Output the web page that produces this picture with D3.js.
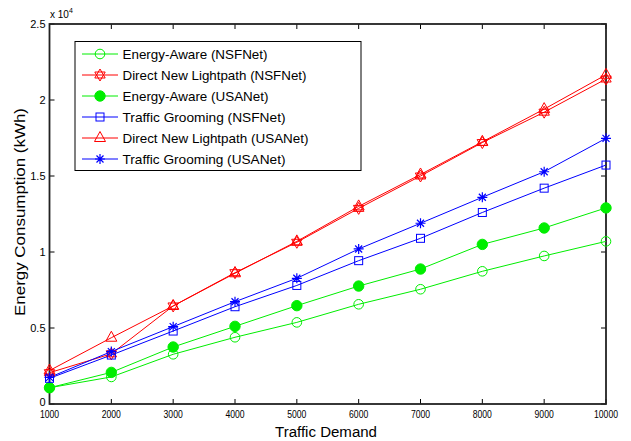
<!DOCTYPE html>
<html><head><meta charset="utf-8">
<script src="https://cdn.jsdelivr.net/npm/d3@7"></script>
<style>body{margin:0;background:#fff;} text{font-family:"Liberation Sans",Arial,sans-serif;}</style>
</head><body>
<svg id="c" width="631" height="441"></svg>
<script>
const demand = [1000,2000,3000,4000,5000,6000,7000,8000,9000,10000];
const eaNSF  = [0.107,0.178,0.327,0.439,0.537,0.656,0.755,0.873,0.974,1.07];
const dnlNSF = [0.206,0.33,0.645,0.864,1.064,1.287,1.50,1.72,1.92,2.138];
const eaUSA  = [0.107,0.208,0.375,0.511,0.647,0.776,0.888,1.05,1.158,1.29];
const tgNSF  = [0.169,0.322,0.48,0.64,0.78,0.943,1.09,1.26,1.42,1.572];
const dnlUSA = [0.22,0.436,0.645,0.86,1.07,1.30,1.51,1.725,1.94,2.166];
const tgUSA  = [0.175,0.345,0.509,0.673,0.827,1.02,1.189,1.36,1.528,1.748];
const seriesNames = ["Energy-Aware (NSFNet)","Direct New Lightpath (NSFNet)","Energy-Aware (USANet)","Traffic Grooming (NSFNet)","Direct New Lightpath (USANet)","Traffic Grooming (USANet)"];
const xTicks = [1000,2000,3000,4000,5000,6000,7000,8000,9000,10000];
const yTicks = [0,0.5,1,1.5,2,2.5];

const series = [
  {name:seriesNames[0], v:eaNSF, color:"#00ee00", m:"circle"},
  {name:seriesNames[1], v:dnlNSF, color:"#ff0000", m:"hexagram"},
  {name:seriesNames[2], v:eaUSA, color:"#00ee00", m:"dot"},
  {name:seriesNames[3], v:tgNSF, color:"#0000ff", m:"square"},
  {name:seriesNames[4], v:dnlUSA, color:"#ff0000", m:"triangle"},
  {name:seriesNames[5], v:tgUSA, color:"#0000ff", m:"star"}
];

const svg = d3.select("#c");
const L=49.5, R=606, T=24, B=404;
const x = d3.scaleLinear().domain([1000,10000]).range([L,R]);
const y = d3.scaleLinear().domain([0,2.5]).range([B,T]);

function marker(g, type, color, cx, cy){
  const s = g.append("g").attr("transform",`translate(${cx},${cy})`);
  if(type==="circle") s.append("circle").attr("r",4.8).attr("fill","none").attr("stroke",color).attr("stroke-width",1);
  else if(type==="dot") s.append("circle").attr("r",5.2).attr("fill",color).attr("stroke",color);
  else if(type==="square") s.append("rect").attr("x",-4).attr("y",-4).attr("width",8).attr("height",8).attr("fill","none").attr("stroke",color);
  else if(type==="triangle") s.append("path").attr("d","M0,-6.5L5.5,3.5L-5.5,3.5Z").attr("fill","none").attr("stroke",color);
  else if(type==="hexagram") {
    s.append("path").attr("d","M0,-6L5.2,3L-5.2,3Z").attr("fill","none").attr("stroke",color);
    s.append("path").attr("d","M0,6L5.2,-3L-5.2,-3Z").attr("fill","none").attr("stroke",color);
  }
  else if(type==="star") s.append("path").attr("d","M-5,0L5,0M0,-5L0,5M-3.5,-3.5L3.5,3.5M-3.5,3.5L3.5,-3.5").attr("stroke",color).attr("stroke-width",1.2);
}

const ax = svg.append("g");
xTicks.forEach(t=>{
  ax.append("line").attr("x1",x(t)).attr("x2",x(t)).attr("y1",B).attr("y2",B-5).attr("stroke","#000");
  ax.append("line").attr("x1",x(t)).attr("x2",x(t)).attr("y1",T).attr("y2",T+5).attr("stroke","#000");
  const s = String(t);
  ax.append("text").attr("x",x(t)).attr("y",B+14).attr("text-anchor","middle").attr("font-size",11)
    .attr("textLength",s.length*4.8).attr("lengthAdjust","spacingAndGlyphs").text(s);
});
yTicks.forEach(t=>{
  ax.append("line").attr("x1",L).attr("x2",L+5).attr("y1",y(t)).attr("y2",y(t)).attr("stroke","#000");
  ax.append("line").attr("x1",R).attr("x2",R-5).attr("y1",y(t)).attr("y2",y(t)).attr("stroke","#000");
  ax.append("text").attr("x",L-4).attr("y",y(t)+(t===0?2:4)).attr("text-anchor","end").attr("font-size",11).text(t);
});
ax.append("rect").attr("x",L).attr("y",T).attr("width",R-L).attr("height",B-T).attr("fill","none").attr("stroke","#222").attr("stroke-width",1.8);
const ex = ax.append("text").attr("x",L+0.5).attr("y",T-6).attr("font-size",10);
ex.append("tspan").text("x 10");
ex.append("tspan").attr("dy",-5).attr("font-size",7).text("4");

svg.append("text").attr("x",326).attr("y",436.5).attr("text-anchor","middle").attr("font-size",15.5)
  .attr("textLength",102).attr("lengthAdjust","spacingAndGlyphs").text("Traffic Demand");
svg.append("text").attr("transform",`translate(25,212) rotate(-90)`).attr("text-anchor","middle").attr("font-size",15.5)
  .attr("textLength",208).attr("lengthAdjust","spacingAndGlyphs").text("Energy Consumption (kWh)");

const line = d3.line().x((d,i)=>x(demand[i])).y(d=>y(d));
const plot = svg.append("g");
series.forEach(s=>{
  plot.append("path").datum(s.v).attr("d",line).attr("fill","none").attr("stroke",s.color).attr("stroke-width",1);
});
series.forEach(s=>{
  s.v.forEach((v,i)=>marker(plot,s.m,s.color,x(demand[i]),y(v)));
});

const legendWidths = [145,184,146,163,186,163];
const lg = svg.append("g");
lg.append("rect").attr("x",75).attr("y",41.5).attr("width",286).attr("height",129).attr("fill","#fff").attr("stroke","#000").attr("stroke-width",1);
series.forEach((s,i)=>{
  const yy = 54+i*21;
  lg.append("line").attr("x1",82).attr("x2",118).attr("y1",yy).attr("y2",yy).attr("stroke",s.color);
  marker(lg,s.m,s.color,100,yy);
  lg.append("text").attr("x",122.5).attr("y",yy+5).attr("font-size",13.5)
    .attr("textLength",legendWidths[i]).attr("lengthAdjust","spacingAndGlyphs").text(s.name);
});
</script>
</body></html>
